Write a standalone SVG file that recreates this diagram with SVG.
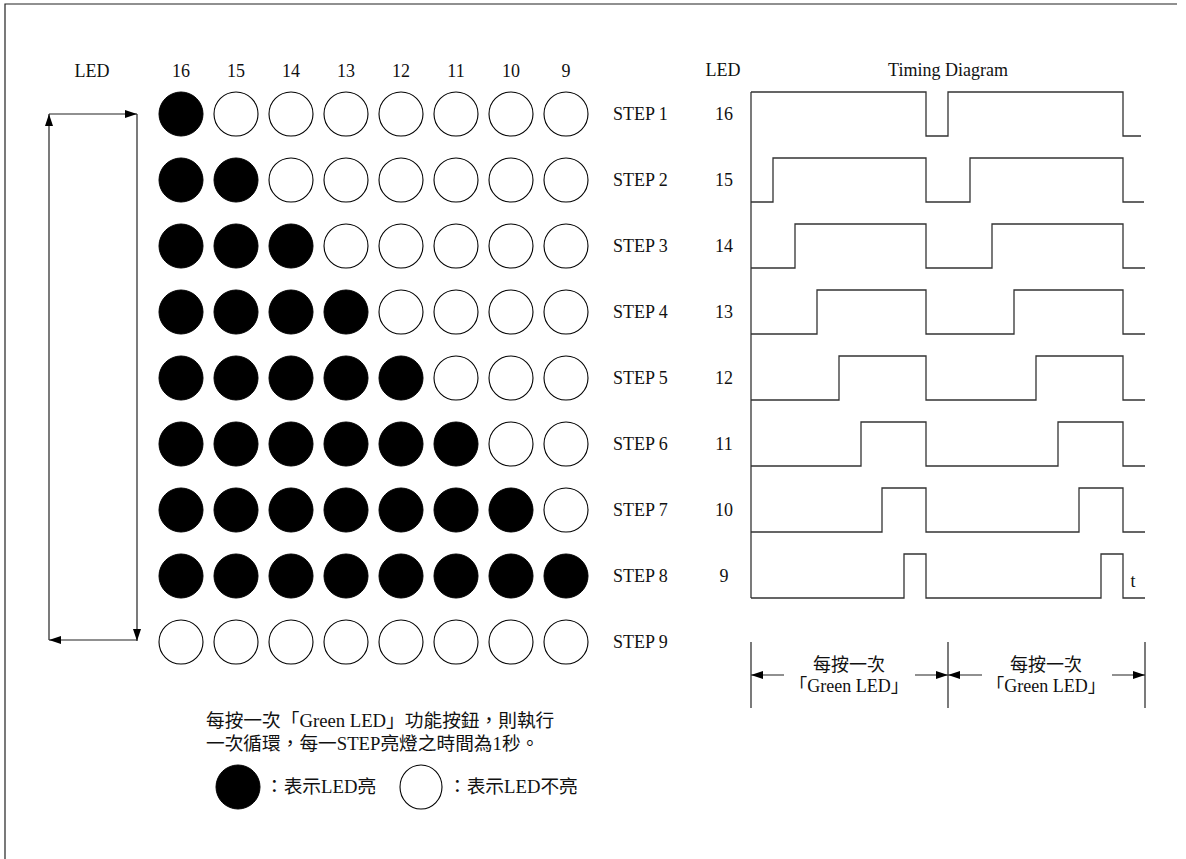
<svg xmlns="http://www.w3.org/2000/svg" width="1186" height="859" viewBox="0 0 1186 859">
<style>
  text { font-family: "Liberation Serif", "Noto Sans CJK TC", serif; font-size: 18px; fill: #111; }
  .c { text-anchor: middle; }
  .cjk { font-size: 18.7px; }
  .on { fill: #000; stroke: #000; stroke-width: 1; }
  .off { fill: #fff; stroke: #000; stroke-width: 1.1; }
  .ln { fill: none; stroke: #222; stroke-width: 1.2; }
  .tr { fill: none; stroke: #333; stroke-width: 1.3; }
</style>
<defs>
  <marker id="ah" markerUnits="userSpaceOnUse" markerWidth="12" markerHeight="8" refX="12" refY="4" orient="auto">
    <path d="M0,0 L12,4 L0,8 z" fill="#000"/>
  </marker>
  <circle id="on" r="22" class="on"/>
  <circle id="off" r="22" class="off"/>
</defs>
<rect width="1186" height="859" fill="#fff"/>
<g id="frame" class="ln">
  <path d="M5,859 V4 H1177"/>
</g>

<g id="header">
  <text x="92" y="77" class="c">LED</text>
  <text x="181" y="77" class="c">16</text>
  <text x="236" y="77" class="c">15</text>
  <text x="291" y="77" class="c">14</text>
  <text x="346" y="77" class="c">13</text>
  <text x="401" y="77" class="c">12</text>
  <text x="456" y="77" class="c">11</text>
  <text x="511" y="77" class="c">10</text>
  <text x="566" y="77" class="c">9</text>
</g>

<g id="step1">
  <use href="#on" x="181" y="114"/><use href="#off" x="236" y="114"/><use href="#off" x="291" y="114"/><use href="#off" x="346" y="114"/>
  <use href="#off" x="401" y="114"/><use href="#off" x="456" y="114"/><use href="#off" x="511" y="114"/><use href="#off" x="566" y="114"/>
  <text x="613" y="120">STEP 1</text>
</g>
<g id="step2">
  <use href="#on" x="181" y="180"/><use href="#on" x="236" y="180"/><use href="#off" x="291" y="180"/><use href="#off" x="346" y="180"/>
  <use href="#off" x="401" y="180"/><use href="#off" x="456" y="180"/><use href="#off" x="511" y="180"/><use href="#off" x="566" y="180"/>
  <text x="613" y="186">STEP 2</text>
</g>
<g id="step3">
  <use href="#on" x="181" y="246"/><use href="#on" x="236" y="246"/><use href="#on" x="291" y="246"/><use href="#off" x="346" y="246"/>
  <use href="#off" x="401" y="246"/><use href="#off" x="456" y="246"/><use href="#off" x="511" y="246"/><use href="#off" x="566" y="246"/>
  <text x="613" y="252">STEP 3</text>
</g>
<g id="step4">
  <use href="#on" x="181" y="312"/><use href="#on" x="236" y="312"/><use href="#on" x="291" y="312"/><use href="#on" x="346" y="312"/>
  <use href="#off" x="401" y="312"/><use href="#off" x="456" y="312"/><use href="#off" x="511" y="312"/><use href="#off" x="566" y="312"/>
  <text x="613" y="318">STEP 4</text>
</g>
<g id="step5">
  <use href="#on" x="181" y="378"/><use href="#on" x="236" y="378"/><use href="#on" x="291" y="378"/><use href="#on" x="346" y="378"/>
  <use href="#on" x="401" y="378"/><use href="#off" x="456" y="378"/><use href="#off" x="511" y="378"/><use href="#off" x="566" y="378"/>
  <text x="613" y="384">STEP 5</text>
</g>
<g id="step6">
  <use href="#on" x="181" y="444"/><use href="#on" x="236" y="444"/><use href="#on" x="291" y="444"/><use href="#on" x="346" y="444"/>
  <use href="#on" x="401" y="444"/><use href="#on" x="456" y="444"/><use href="#off" x="511" y="444"/><use href="#off" x="566" y="444"/>
  <text x="613" y="450">STEP 6</text>
</g>
<g id="step7">
  <use href="#on" x="181" y="510"/><use href="#on" x="236" y="510"/><use href="#on" x="291" y="510"/><use href="#on" x="346" y="510"/>
  <use href="#on" x="401" y="510"/><use href="#on" x="456" y="510"/><use href="#on" x="511" y="510"/><use href="#off" x="566" y="510"/>
  <text x="613" y="516">STEP 7</text>
</g>
<g id="step8">
  <use href="#on" x="181" y="576"/><use href="#on" x="236" y="576"/><use href="#on" x="291" y="576"/><use href="#on" x="346" y="576"/>
  <use href="#on" x="401" y="576"/><use href="#on" x="456" y="576"/><use href="#on" x="511" y="576"/><use href="#on" x="566" y="576"/>
  <text x="613" y="582">STEP 8</text>
</g>
<g id="step9">
  <use href="#off" x="181" y="642"/><use href="#off" x="236" y="642"/><use href="#off" x="291" y="642"/><use href="#off" x="346" y="642"/>
  <use href="#off" x="401" y="642"/><use href="#off" x="456" y="642"/><use href="#off" x="511" y="642"/><use href="#off" x="566" y="642"/>
  <text x="613" y="648">STEP 9</text>
</g>

<g id="connectors" class="ln">
  <line x1="49" y1="114" x2="137" y2="114" marker-end="url(#ah)"/>
  <line x1="137" y1="114" x2="137" y2="641" marker-end="url(#ah)"/>
  <line x1="137" y1="640" x2="49" y2="640" marker-end="url(#ah)"/>
  <line x1="49" y1="640" x2="49" y2="114" marker-end="url(#ah)"/>
  <line x1="784" y1="675" x2="751" y2="675" marker-end="url(#ah)"/>
  <line x1="915" y1="675" x2="948" y2="675" marker-end="url(#ah)"/>
  <line x1="982" y1="675" x2="948" y2="675" marker-end="url(#ah)"/>
  <line x1="1112" y1="675" x2="1145" y2="675" marker-end="url(#ah)"/>
</g>

<g id="timing-labels">
  <text x="723" y="76" class="c">LED</text>
  <text x="948" y="76" class="c">Timing Diagram</text>
  <text x="724" y="120" class="c">16</text>
  <text x="724" y="186" class="c">15</text>
  <text x="724" y="252" class="c">14</text>
  <text x="724" y="318" class="c">13</text>
  <text x="724" y="384" class="c">12</text>
  <text x="724" y="450" class="c">11</text>
  <text x="724" y="516" class="c">10</text>
  <text x="724" y="582" class="c">9</text>
  <text x="1133" y="587" class="c">t</text>
</g>

<g id="timing-axis" class="tr">
  <line x1="751" y1="92" x2="751" y2="598"/>
</g>
<g id="trace16" class="tr"><path d="M751,92 H926 V136 H948 V92 H1123 V136 H1141"/></g>
<g id="trace15" class="tr"><path d="M751,202 H773 V158 H926 V202 H970 V158 H1123 V202 H1144"/></g>
<g id="trace14" class="tr"><path d="M751,268 H795 V224 H926 V268 H992 V224 H1123 V268 H1145"/></g>
<g id="trace13" class="tr"><path d="M751,334 H817 V290 H926 V334 H1014 V290 H1123 V334 H1145"/></g>
<g id="trace12" class="tr"><path d="M751,400 H839 V356 H926 V400 H1036 V356 H1123 V400 H1145"/></g>
<g id="trace11" class="tr"><path d="M751,466 H861 V422 H926 V466 H1058 V422 H1123 V466 H1145"/></g>
<g id="trace10" class="tr"><path d="M751,532 H882 V488 H926 V532 H1079 V488 H1123 V532 H1145"/></g>
<g id="trace9" class="tr"><path d="M751,598 H904 V554 H926 V598 H1101 V554 H1123 V598 H1145"/></g>

<g id="period-brackets">
  <g class="ln">
    <line x1="751" y1="642" x2="751" y2="708"/>
    <line x1="948" y1="642" x2="948" y2="708"/>
    <line x1="1145" y1="642" x2="1145" y2="708"/>
  </g>
  <text x="849" y="671" class="c">每按一次</text>
  <text x="849" y="692" class="c">「Green LED」</text>
  <text x="1046" y="671" class="c">每按一次</text>
  <text x="1046" y="692" class="c">「Green LED」</text>
</g>

<g id="note">
  <text x="206" y="727" class="cjk">每按一次「Green LED」功能按鈕，則執行</text>
  <text x="206" y="750" class="cjk">一次循環，每一STEP亮燈之時間為1秒。</text>
</g>

<g id="legend">
  <circle cx="238" cy="787" r="22" class="on"/>
  <text x="265" y="793" class="cjk">：表示LED亮</text>
  <ellipse cx="421" cy="787" rx="21" ry="22" class="off"/>
  <text x="448" y="793" class="cjk">：表示LED不亮</text>
</g>
</svg>
